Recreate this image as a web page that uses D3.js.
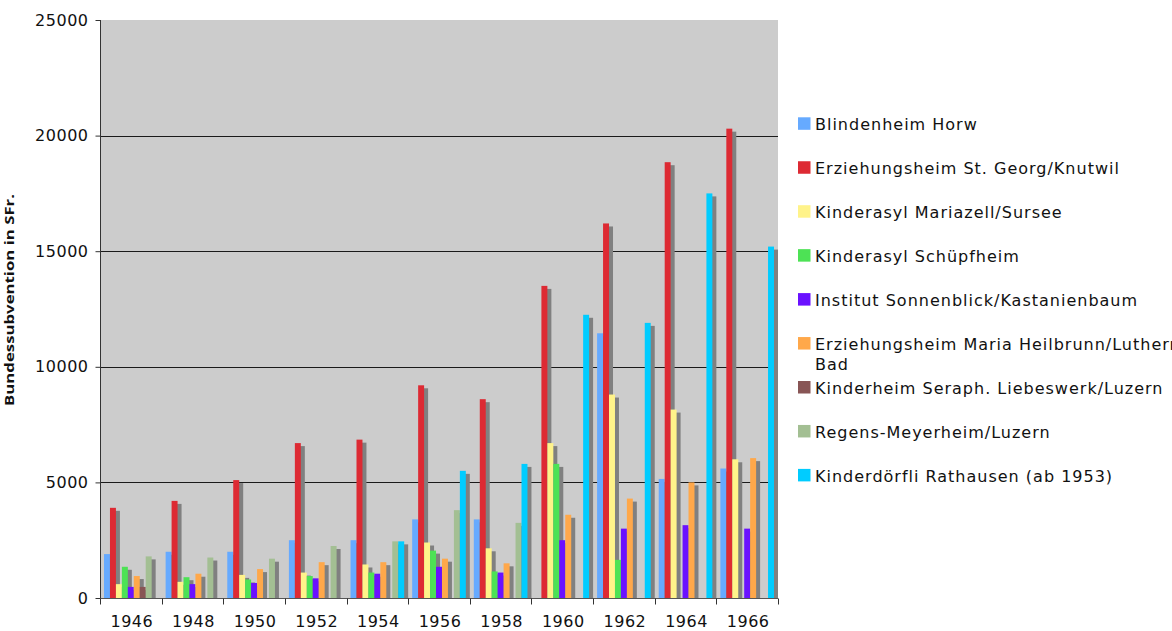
<!DOCTYPE html>
<html>
<head>
<meta charset="utf-8">
<script src="https://cdn.jsdelivr.net/npm/d3@7"></script>
<style>
  body { margin: 0; background: #fff; }
  svg text { font-family: "DejaVu Sans", Verdana, sans-serif; fill: #111; }
</style>
</head>
<body>
<div id="chart"></div>
<script>
"use strict";

var years = ["1946", "1948", "1950", "1952", "1954", "1956", "1958", "1960", "1962", "1964", "1966"];
var seriesNames = [
    "Blindenheim Horw",
    "Erziehungsheim St. Georg/Knutwil",
    "Kinderasyl Mariazell/Sursee",
    "Kinderasyl Schüpfheim",
    "Institut Sonnenblick/Kastanienbaum",
    "Erziehungsheim Maria Heilbrunn/Luthern Bad",
    "Kinderheim Seraph. Liebeswerk/Luzern",
    "Regens-Meyerheim/Luzern",
    "Kinderdörfli Rathausen (ab 1953)"
];
var seriesColors = ["#66aaff", "#dd2a33", "#fff38a", "#4de255", "#6a11ff", "#ffa84a", "#885555", "#a3bf93", "#00ccff"];

var blindenheim   = [1900, 2000, 2000, 2500, 2500, 3400, 3400, 0, 11450, 5150, 5600];
var stGeorg       = [3900, 4200, 5100, 6700, 6850, 9200, 8600, 13500, 16200, 18850, 20300];
var mariazell     = [600, 700, 1000, 1100, 1450, 2400, 2150, 6700, 8800, 8150, 6000];
var schuepfheim   = [1350, 900, 800, 950, 1100, 2050, 1150, 5800, 1650, 0, 0];
var sonnenblick   = [480, 600, 650, 850, 1050, 1350, 1100, 2500, 3000, 3150, 3000];
var heilbrunn     = [950, 1050, 1250, 1550, 1550, 1700, 1500, 3600, 4300, 5000, 6050];
var liebeswerk    = [480, 0, 0, 0, 0, 0, 0, 0, 0, 0, 0];
var meyerheim     = [1800, 1750, 1700, 2250, 2450, 3800, 3250, 0, 0, 0, 0];
var rathausen     = [0, 0, 0, 0, 2450, 5500, 5800, 12250, 11900, 17500, 15200];

var seriesValues = [blindenheim, stGeorg, mariazell, schuepfheim, sonnenblick, heilbrunn, liebeswerk, meyerheim, rathausen];
var yTicks = [0, 5000, 10000, 15000, 20000, 25000];

var W = 1172, H = 631;
var pLeft = 100, pRight = 778, pTop = 20, pBottom = 598;

var svg = d3.select("#chart").append("svg")
    .attr("width", W)
    .attr("height", H);

var x = d3.scaleBand().domain(years).range([pLeft, pRight]).padding(0);
var xs = d3.scaleBand().domain(d3.range(seriesNames.length)).range([4, x.bandwidth() - 4]).padding(0);
var y = d3.scaleLinear().domain([0, 25000]).range([pBottom, pTop]);

// plot background
svg.append("rect")
    .attr("x", pLeft).attr("y", pTop)
    .attr("width", pRight - pLeft).attr("height", pBottom - pTop)
    .attr("fill", "#cccccc");

// grid lines
svg.append("g").selectAll("line")
    .data(yTicks.filter(t => t > 0 && t < 25000))
    .enter().append("line")
    .attr("x1", pLeft).attr("x2", pRight)
    .attr("y1", d => Math.round(y(d)) + 0.5).attr("y2", d => Math.round(y(d)) + 0.5)
    .attr("stroke", "#1a1a1a").attr("stroke-width", 1);

// bars with grey shadow
seriesValues.forEach(function(vals, si) {
    var g = svg.append("g");
    var data = vals.map((v, i) => ({year: years[i], v: v})).filter(d => d.v > 0);
    g.selectAll(".shadow")
        .data(data)
        .enter().append("rect")
        .attr("class", "shadow")
        .attr("x", d => x(d.year) + xs(si) + 4)
        .attr("y", d => y(d.v) + 3)
        .attr("width", xs.bandwidth())
        .attr("height", d => Math.max(0, pBottom - y(d.v) - 3))
        .attr("fill", "#808080");
    g.selectAll(".bar")
        .data(data)
        .enter().append("rect")
        .attr("class", "bar")
        .attr("x", d => x(d.year) + xs(si))
        .attr("y", d => y(d.v))
        .attr("width", xs.bandwidth())
        .attr("height", d => pBottom - y(d.v))
        .attr("fill", seriesColors[si]);
});

// y axis
var yAxis = svg.append("g")
    .attr("transform", "translate(" + (pLeft + 0.5) + ",0)")
    .call(d3.axisLeft(y).tickValues(yTicks).tickSize(5).tickPadding(7).tickFormat(d3.format("d")));
yAxis.select(".domain").attr("stroke", "#333").attr("d", "M0," + pTop + "V" + pBottom);
yAxis.selectAll(".tick line").attr("stroke", "#333");
yAxis.selectAll(".tick text")
    .style("font-size", "16px")
    .style("letter-spacing", "0.5px")
    .attr("fill", "#111");

// x axis
var xAxis = svg.append("g")
    .attr("transform", "translate(0," + (pBottom + 0.5) + ")");
xAxis.append("line")
    .attr("x1", pLeft).attr("x2", pRight)
    .attr("stroke", "#555");
xAxis.selectAll(".tk")
    .data(years.concat(["end"]))
    .enter().append("line")
    .attr("x1", (d, i) => Math.round(pLeft + i * x.bandwidth()) + 0.5)
    .attr("x2", (d, i) => Math.round(pLeft + i * x.bandwidth()) + 0.5)
    .attr("y1", 0).attr("y2", 6)
    .attr("stroke", "#333");
xAxis.selectAll(".lbl")
    .data(years)
    .enter().append("text")
    .attr("x", d => x(d) + x.bandwidth() / 2 + 1)
    .attr("y", 28)
    .attr("text-anchor", "middle")
    .style("font-size", "16px")
    .style("letter-spacing", "0.5px")
    .text(d => d);

// y axis title
svg.append("text")
    .attr("transform", "translate(14," + 300 + ") rotate(-90)")
    .attr("text-anchor", "middle")
    .style("font-family", "'Open Sans', sans-serif")
    .style("font-weight", "bold")
    .style("font-size", "13px")
    .attr("textLength", 212)
    .attr("lengthAdjust", "spacingAndGlyphs")
    .text("Bundessubvention in SFr.");

// legend
var legend = svg.append("g");
var legTop = 117.3, legStep = 43.95;
seriesNames.forEach(function(name, i) {
    var ly = legTop + i * legStep;
    legend.append("rect")
        .attr("x", 798).attr("y", ly)
        .attr("width", 12.5).attr("height", 12.5)
        .attr("fill", seriesColors[i]);
    var lines = name === "Erziehungsheim Maria Heilbrunn/Luthern Bad"
        ? ["Erziehungsheim Maria Heilbrunn/Luthern", "Bad"] : [name];
    lines.forEach(function(t, j) {
        legend.append("text")
            .attr("x", 815)
            .attr("y", ly + 13 + j * 20)
            .style("font-size", "16px")
            .style("letter-spacing", "1px")
            .text(t);
    });
});
</script>
</body>
</html>
